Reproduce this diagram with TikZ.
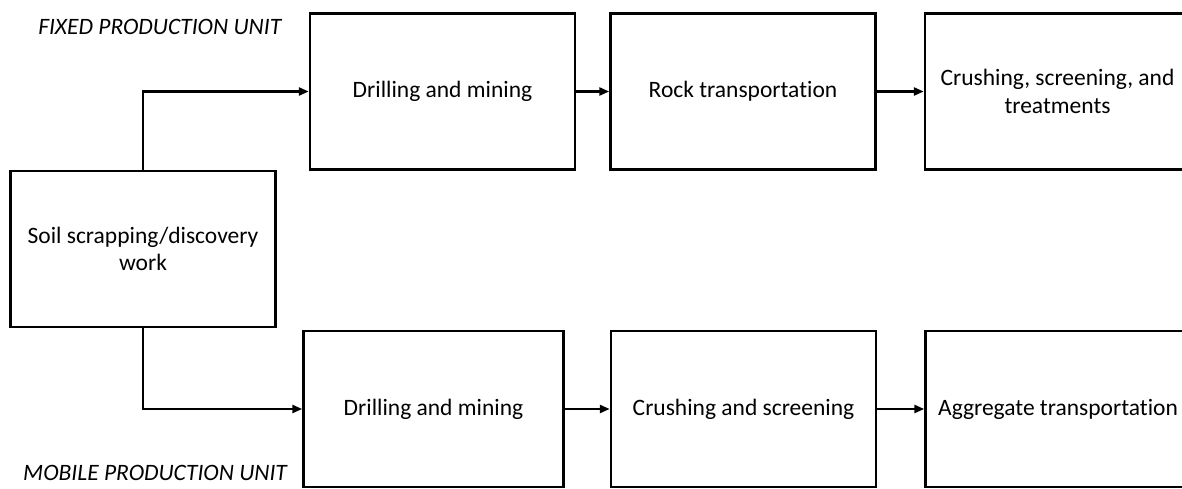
\documentclass[tikz,border=0pt]{standalone}
\usepackage{fontspec}
\setmainfont[Ligatures=NoCommon]{Carlito}
\usetikzlibrary{arrows.meta,positioning}

\begin{document}
\begin{tikzpicture}[x=1pt,y=1pt,->,>={Stealth[length=10pt,width=8pt,inset=0pt]},
  line width=2.5pt,font=\fontsize{23.5}{27.5}\selectfont]
  \tikzstyle{stage}=[draw,rectangle,minimum width=265pt,minimum height=156pt,align=center]
  \tikzstyle{unit}=[font=\fontsize{23.5}{27.5}\selectfont\itshape,inner sep=0pt,anchor=west]

  \useasboundingbox (0,0) rectangle (1182,488);

  \node[stage]                      (soil)   at (143,239)     {Soil scrapping/discovery\\work};
  \node[stage]                      (drillA) at (442.5,396.5) {Drilling and mining};
  \node[stage] [right=33pt of drillA] (rock)                  {Rock transportation};
  \node[stage] [right=47pt of rock]   (crushA)                {Crushing, screening, and\\treatments};
  \node[stage,minimum width=260pt]  (drillB) at (433.5,79)    {Drilling and mining};
  \node[stage] [right=45pt of drillB] (crushB)                {Crushing and screening};
  \node[stage] [right=47pt of crushB] (aggr)                  {Aggregate transportation};

  \node[unit] (fixedlbl)  at (37,461) {FIXED PRODUCTION UNIT};
  \node[unit] (mobilelbl) at (22,15)  {MOBILE PRODUCTION UNIT};

  \path (drillA) edge (rock)
        (rock)   edge (crushA)
        (drillB) edge (crushB)
        (crushB) edge (aggr);
  \draw (soil.north) |- (drillA.west);
  \draw (soil.south) |- (drillB.west);
\end{tikzpicture}
\end{document}
